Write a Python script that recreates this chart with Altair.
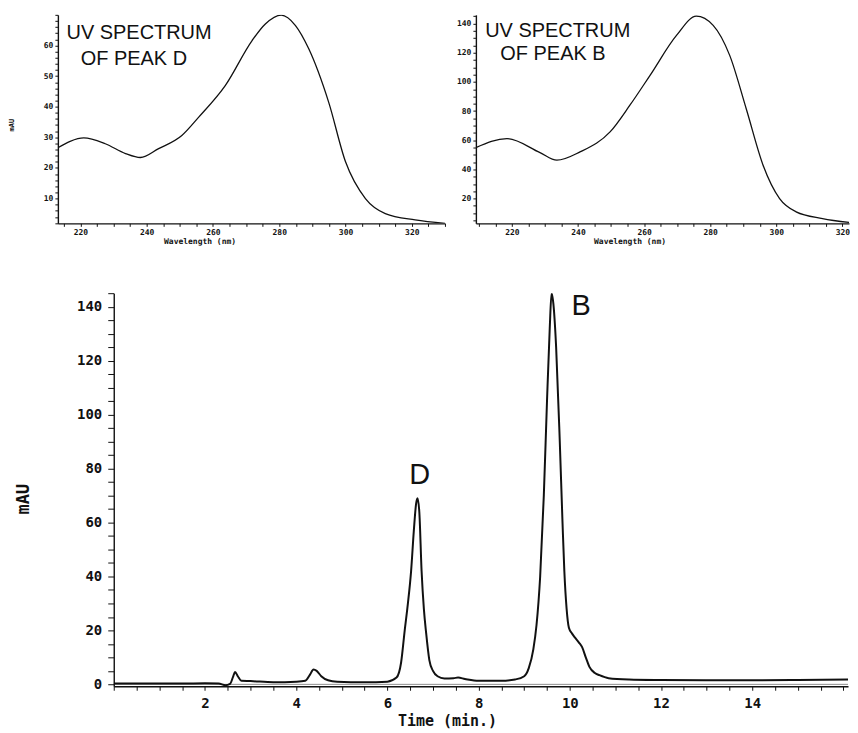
import altair as alt
import pandas as pd

# ---------------- data ----------------
# Chromatogram (bottom panel)
time_min = [0.0, 0.5, 1.0, 1.5, 2.0, 2.3, 2.45, 2.55, 2.62, 2.66, 2.72, 2.8, 3.0, 3.5,
            4.0, 4.2, 4.3, 4.38, 4.45, 4.55, 4.7, 4.9, 5.5, 6.0, 6.2, 6.3, 6.38, 6.45,
            6.52, 6.58, 6.63, 6.66, 6.70, 6.75, 6.80, 6.85, 6.92, 7.0, 7.1, 7.25, 7.45,
            7.55, 7.7, 8.0, 8.5, 8.8, 9.0, 9.1, 9.2, 9.27, 9.35, 9.43, 9.5, 9.56, 9.6,
            9.64, 9.7, 9.78, 9.84, 9.88, 9.93, 9.98, 10.05, 10.11, 10.2, 10.27, 10.35,
            10.43, 10.55, 10.65, 10.85, 11.3, 12.0, 13.0, 14.0, 15.0, 16.1]
mau = [0.3, 0.3, 0.3, 0.3, 0.4, 0.3, -0.3, 0.2, 3.0, 4.6, 3.0, 1.3, 1.2, 0.8,
       1.0, 1.3, 3.5, 5.5, 5.0, 3.0, 1.5, 1.0, 0.8, 1.0, 2.5, 8.0, 20.0, 30.0,
       42.0, 57.0, 67.0, 69.0, 64.0, 42.0, 28.0, 19.0, 9.0, 5.0, 3.0, 2.2, 2.3,
       2.5, 2.0, 1.3, 1.3, 1.8, 3.0, 6.0, 13.0, 22.0, 40.0, 70.0, 105.0, 132.0, 145.0,
       141.0, 125.0, 90.0, 60.0, 42.0, 28.0, 21.0, 18.8, 17.4, 15.5, 13.8, 10.0,
       6.5, 4.2, 3.4, 2.3, 1.8, 1.6, 1.5, 1.5, 1.6, 1.8]

# UV spectrum of peak D (top left)
wl_peak_d = [213.2, 216.9, 221.0, 227.5, 233.6, 238.1, 243.6, 250.6, 255.7, 263.7,
             271.8, 275.8, 280.6, 284.9, 288.9, 294.9, 300.0, 306.0, 312.0, 321.0, 330.0]
abs_peak_d = [26.6, 28.7, 29.8, 27.9, 24.7, 23.4, 26.3, 30.6, 36.6, 46.9,
              61.6, 67.0, 69.9, 66.5, 58.9, 41.5, 22.0, 10.0, 5.1, 3.0, 1.9]

# UV spectrum of peak B (top right)
wl_peak_b = [209.1, 218.5, 228.5, 233.6, 240.6, 249.7, 255.7, 261.8, 269.8, 275.8,
             280.9, 285.9, 290.9, 296.0, 301.0, 306.0, 314.0, 322.0]
abs_peak_b = [54.9, 61.1, 51.5, 46.3, 52.0, 65.7, 84.0, 104.5, 131.9, 145.1,
              138.8, 118.2, 81.6, 42.9, 20.0, 10.9, 6.3, 3.6]

# tick values
main_x_ticks = [i * 0.5 for i in range(0, 33)]
main_y_ticks = list(range(0, 146, 5))
spec_d_x_ticks = list(range(215, 331, 5))
spec_b_x_ticks = list(range(210, 321, 5))
spec_d_y_ticks = list(range(2, 71, 2))
spec_b_y_ticks = list(range(5, 146, 5))

# annotation texts
spec_d_text = ["UV SPECTRUM", "OF PEAK D"]
spec_d_text_nm = [215.8, 220.1]
spec_d_text_v = [62.0, 53.5]
spec_b_text = ["UV SPECTRUM", "OF PEAK B"]
spec_b_text_nm = [211.9, 216.5]
spec_b_text_v = [130.8, 115.0]
peak_names = ["D", "B"]
peak_name_t = [6.71, 10.25]
peak_name_v = [77.5, 140.3]

INK = "#111111"
MONO = "DejaVu Sans Mono"
SANS = "Liberation Sans"


def axis(**kw):
    base = dict(grid=False, domainColor=INK, domainWidth=1.4, tickColor=INK, tickWidth=1,
                labelColor=INK, labelFont=MONO, labelFontWeight="bold", labelOverlap=False,
                labelFlush=False, titleFont=MONO, titleFontWeight="bold", titleColor=INK)
    base.update(kw)
    return alt.Axis(**base)


def spectrum(wl, ab, xdom, ydom, xticks, yticks, ylab_every, ylab_max, texts, tnm, tv, w,
             ytitle, xtitle_x):
    df = pd.DataFrame({"nm": wl, "mAU": ab})
    xsc = alt.Scale(domain=xdom, nice=False, zero=False)
    ysc = alt.Scale(domain=ydom, nice=False, zero=False)
    yax = dict(values=yticks, tickSize=3, labelPadding=2, labelFontSize=8,
               labelExpr=(f"datum.value % {ylab_every} == 0 && datum.value <= {ylab_max}"
                          " ? format(datum.value, 'd') : ''"))
    if ytitle:
        yax.update(title="mAU", titleFontSize=7, titleX=-46, titleY=110, titleAngle=270,
                   titleAlign="center", titleBaseline="middle")
    else:
        yax.update(title=None)
    xax = axis(values=xticks, tickSize=3, labelPadding=2, labelFontSize=8,
               labelExpr="datum.value % 20 == 0 ? format(datum.value, 'd') : ''",
               title="Wavelength (nm)", titleFontSize=8, titleX=xtitle_x, titleY=14,
               titleAlign="center", titleBaseline="top")
    yaxis = axis(**yax)
    line = alt.Chart(df).mark_line(color=INK, strokeWidth=1.3, interpolate="monotone",
                                   clip=True).encode(
        x=alt.X("nm:Q", scale=xsc, axis=xax),
        y=alt.Y("mAU:Q", scale=ysc, axis=yaxis),
    )
    tdf = pd.DataFrame({"nm": tnm, "mAU": tv, "txt": texts})
    txt = alt.Chart(tdf).mark_text(align="left", baseline="alphabetic", font=SANS, fontSize=20,
                                   color=INK).encode(
        x=alt.X("nm:Q", scale=xsc, axis=xax), y=alt.Y("mAU:Q", scale=ysc, axis=yaxis),
        text="txt:N")
    return alt.layer(line, txt).properties(width=w, height=209)


left = spectrum(wl_peak_d, abs_peak_d, [213.2, 330], [1.9, 70], spec_d_x_ticks, spec_d_y_ticks,
                10, 60, spec_d_text, spec_d_text_nm, spec_d_text_v, 388, True, 142)
right = spectrum(wl_peak_b, abs_peak_b, [209.1, 322], [3, 146], spec_b_x_ticks, spec_b_y_ticks,
                 20, 140, spec_b_text, spec_b_text_nm, spec_b_text_v, 374, False, 154)

df_main = pd.DataFrame({"t": time_min, "mAU": mau})
xs = alt.Scale(domain=[0, 16.1], nice=False, zero=False)
ys = alt.Scale(domain=[-0.7, 145], nice=False, zero=False)
main_xax = axis(values=main_x_ticks, tickSize=4, labelPadding=6, labelFontSize=14,
                labelExpr="datum.value % 2 == 0 && datum.value > 0 && datum.value < 15 ? format(datum.value, 'd') : ''",
                title="Time (min.)", titleFontSize=15, titleX=334, titleY=27,
                titleAlign="center", titleBaseline="top")
main_yax = axis(values=main_y_ticks, tickSize=6, labelPadding=6, labelFontSize=14,
                labelExpr="datum.value % 20 == 0 ? format(datum.value, 'd') : ''",
                title=None)
main_line = alt.Chart(df_main).mark_line(color=INK, strokeWidth=2, interpolate="monotone",
                                         clip=True).encode(
    x=alt.X("t:Q", scale=xs, axis=main_xax),
    y=alt.Y("mAU:Q", scale=ys, axis=main_yax),
)
zero_line = alt.Chart(pd.DataFrame({"mAU": [0]})).mark_rule(color=INK, strokeWidth=0.8,
                                                            opacity=0.6).encode(
    y=alt.Y("mAU:Q", scale=ys, axis=main_yax))
pk = pd.DataFrame({"t": peak_name_t, "mAU": peak_name_v, "lab": peak_names})
peak_text = alt.Chart(pk).mark_text(font=SANS, fontSize=29, align="center", baseline="middle",
                                    color=INK).encode(
    x=alt.X("t:Q", scale=xs, axis=main_xax), y=alt.Y("mAU:Q", scale=ys, axis=main_yax),
    text="lab:N")
main = alt.layer(main_line, zero_line, peak_text).properties(width=736, height=394)

# narrow spacer panel that carries the main y-axis title ("mAU")
spacer = alt.Chart(pd.DataFrame({"mAU": [0]})).mark_rule(opacity=0).encode(
    x=alt.value(0),
    y=alt.Y("mAU:Q", scale=alt.Scale(domain=[0, 1]),
            axis=alt.Axis(title="mAU", domain=False, ticks=False, labels=False, grid=False,
                          titleFont=MONO, titleFontWeight="bold", titleFontSize=17,
                          titleColor=INK, titleX=-34, titleY=206, titleAngle=270,
                          titleAlign="center", titleBaseline="middle")),
    y2=alt.value(1)).properties(width=18, height=10)

chart = alt.concat(
    alt.hconcat(left, right, spacing=10),
    alt.hconcat(spacer, main, spacing=0),
    columns=1, spacing=41,
).properties(padding={"left": 0, "top": 2, "right": 0, "bottom": 0}).configure_view(stroke=None)

chart.save("out.html", embed_options={"renderer": "svg", "actions": False})
